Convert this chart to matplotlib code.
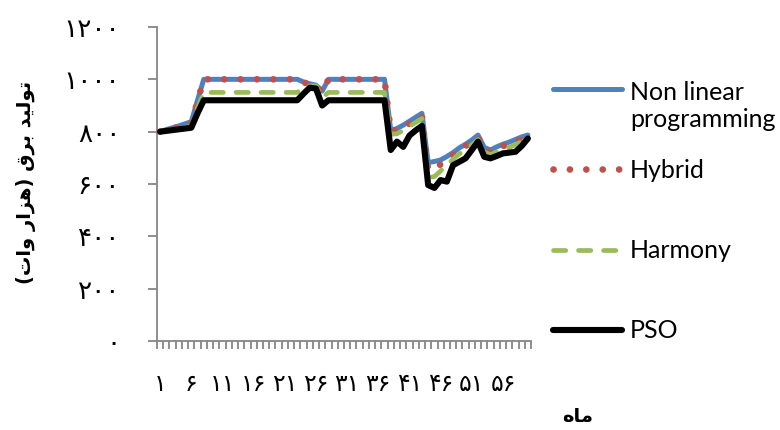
import matplotlib
matplotlib.use("Agg")
import matplotlib.pyplot as plt
from matplotlib.lines import Line2D
import numpy as np

# ---- data -------------------------------------------------------------
months = list(range(1, 61))

nonlinear = [800, 808, 815, 822, 830, 838, 920,
             1000, 1000, 1000, 1000, 1000, 1000, 1000, 1000,
             1000, 1000, 1000, 1000, 1000, 1000, 1000, 1000,
             990, 983, 978, 955,
             1000, 1000, 1000, 1000, 1000, 1000, 1000, 1000, 1000, 1000,
             805, 812, 825, 840, 855, 870,
             682, 686, 692, 705, 720, 738, 752, 768, 787,
             740, 730, 742, 752, 760, 770, 780, 787]

hybrid = [800, 806, 812, 818, 825, 832, 915,
          1000, 1000, 1000, 1000, 1000, 1000, 1000, 1000,
          1000, 1000, 1000, 1000, 1000, 1000, 1000, 1000,
          988, 982, 978, 950,
          1000, 1000, 1000, 1000, 1000, 1000, 1000, 1000, 1000, 1000,
          800, 805, 815, 830, 845, 860,
          655, 660, 675, 690, 710, 730, 745, 760, 778,
          732, 722, 735, 745, 752, 762, 772, 782]

harmony = [800, 804, 808, 812, 816, 820, 890,
           950, 950, 950, 950, 950, 950, 950, 950,
           950, 950, 950, 950, 950, 950, 950, 950,
           970, 975, 975, 930,
           950, 950, 950, 950, 950, 950, 950, 950, 950, 950,
           790, 792, 805, 820, 835, 850,
           625, 628, 650, 672, 695, 715, 730, 748, 770,
           722, 712, 722, 732, 740, 750, 762, 778]

pso = [800, 803, 806, 809, 812, 815, 870,
       920, 920, 920, 920, 920, 920, 920, 920,
       920, 920, 920, 920, 920, 920, 920, 920,
       945, 968, 965, 900,
       920, 920, 920, 920, 920, 920, 920, 920, 920, 920,
       730, 762, 742, 785, 805, 822,
       596, 585, 615, 609, 672, 685, 698, 730, 762,
       704, 698, 707, 717, 720, 723, 745, 774]

series_labels = ["Non linear\nprogramming", "Hybrid", "Harmony", "PSO"]
y_ticks = [0, 200, 400, 600, 800, 1000, 1200]
x_labelled = months[::5]
y_title = "تولید برق (هزار وات)"
x_title = "ماه"

# ---- helpers ----------------------------------------------------------
PERSIAN_DIGITS = str.maketrans("0123456789", "۰۱۲۳۴۵۶۷۸۹")


def fa_num(n):
    return str(n).translate(PERSIAN_DIGITS)


# contextual forms: isolated, final, initial, medial (None = right-joining only)
FORMS = {
    "ت": ("\uFE95", "\uFE96", "\uFE97", "\uFE98"),
    "ب": ("\uFE8F", "\uFE90", "\uFE91", "\uFE92"),
    "ل": ("\uFEDD", "\uFEDE", "\uFEDF", "\uFEE0"),
    "ی": ("\uFBFC", "\uFBFD", "\uFBFE", "\uFBFF"),
    "ق": ("\uFED5", "\uFED6", "\uFED7", "\uFED8"),
    "ه": ("\uFEE9", "\uFEEA", "\uFEEB", "\uFEEC"),
    "م": ("\uFEE1", "\uFEE2", "\uFEE3", "\uFEE4"),
    "و": ("\uFEED", "\uFEEE", None, None),
    "د": ("\uFEA9", "\uFEAA", None, None),
    "ر": ("\uFEAD", "\uFEAE", None, None),
    "ز": ("\uFEAF", "\uFEB0", None, None),
    "ا": ("\uFE8D", "\uFE8E", None, None),
}
MIRROR = {"(": ")", ")": "("}


def shape_rtl(text):
    out = []
    for i, ch in enumerate(text):
        if ch not in FORMS:
            out.append(MIRROR.get(ch, ch))
            continue
        prev = text[i - 1] if i > 0 else ""
        nxt = text[i + 1] if i + 1 < len(text) else ""
        joins_prev = prev in FORMS and FORMS[prev][2] is not None
        joins_next = FORMS[ch][2] is not None and nxt in FORMS
        iso, fin, ini, med = FORMS[ch]
        if joins_prev and joins_next:
            out.append(med)
        elif joins_prev:
            out.append(fin)
        elif joins_next:
            out.append(ini)
        else:
            out.append(iso)
    return "".join(reversed(out))


# ---- figure -----------------------------------------------------------
W, H = 780, 430
fig = plt.figure(figsize=(W / 100, H / 100), dpi=100)
ax = fig.add_axes([157 / W, 89 / H, 374 / W, 314 / H])

BLUE = "#4F81BD"
RED = "#C0504D"
GREEN = "#9BBB59"
AXIS = "#868686"

styles = [
    dict(color=BLUE, lw=3.6, solid_capstyle="round", solid_joinstyle="round"),
    dict(color=RED, lw=4.8, linestyle=(0, (0.01, 2.45)), dash_capstyle="round"),
    dict(color=GREEN, lw=3.4, linestyle=(0, (2.6, 2.7)), dash_capstyle="round"),
    dict(color="black", lw=4.4, solid_capstyle="round", solid_joinstyle="round"),
]

for values, st in zip([nonlinear, hybrid, harmony, pso], styles):
    ax.plot(months, values, **st, zorder=3)

ax.set_xlim(0.5, 60.5)
ax.set_ylim(0, 1200)

for side in ("top", "right"):
    ax.spines[side].set_visible(False)
for side in ("left", "bottom"):
    ax.spines[side].set_color(AXIS)
    ax.spines[side].set_linewidth(1.3)

ax.set_yticks(y_ticks)
ax.set_yticklabels([fa_num(v) for v in y_ticks], fontsize=19)
ax.tick_params(axis="y", length=6.5, width=1.3, color=AXIS, pad=20)

ax.set_xticks(np.arange(0.5, 61, 1))
ax.set_xticklabels([])
ax.tick_params(axis="x", which="major", length=6, width=1.3, color=AXIS)
ax.set_xticks(x_labelled, minor=True)
ax.set_xticklabels([fa_num(v) for v in x_labelled], minor=True, fontsize=17)
ax.tick_params(axis="x", which="minor", length=0, pad=22)

# axis titles
fig.text(26 / W, 1 - 182 / H, shape_rtl(y_title), rotation=90,
         ha="center", va="center", fontsize=14, fontweight="bold")
fig.text(578 / W, 1 - 417 / H, shape_rtl(x_title),
         ha="center", va="center", fontsize=14, fontweight="bold")

# legend, laid out down the right-hand side
handle_y = [89, 169, 250, 330]
text_y = [106, 170, 251, 330]
for st, label, hy, ty in zip(styles, series_labels, handle_y, text_y):
    fig.add_artist(Line2D([553 / W, 622 / W], [1 - hy / H, 1 - hy / H],
                          transform=fig.transFigure, **st))
    fig.text(630 / W, 1 - ty / H, label, ha="left", va="center",
             fontsize=18, family="Lato", linespacing=1.2)

fig.savefig("out.png", dpi=100)
